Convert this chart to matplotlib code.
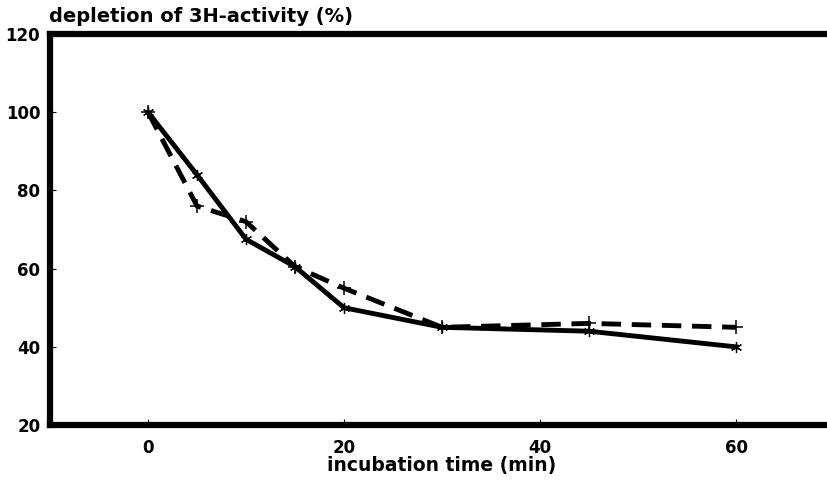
import matplotlib
matplotlib.use("Agg")
import matplotlib.pyplot as plt

plt.rcParams['font.family'] = ['DejaVu Sans']
plt.rcParams['font.weight'] = 'bold'

# incubation time (min)
time_solid = [0, 5, 10, 15, 20, 30, 45, 60]
depl_solid = [100, 84, 67.5, 60.5, 50, 45, 44, 40]

time_dashed = [0, 5, 10, 15, 20, 30, 45, 60]
depl_dashed = [100, 76, 72, 60.5, 55, 45, 46, 45]

xticks = [0, 20, 40, 60]
yticks = [20, 40, 60, 80, 100, 120]

fig = plt.figure(figsize=(8.27, 4.92), dpi=100)
ax = fig.add_axes([0.0605, 0.136, 0.948, 0.795])

ax.plot(time_solid, depl_solid, color='black', lw=3.5, ls='-',
        marker=(6, 2, 0), ms=8, mew=0.9, solid_joinstyle='round', zorder=3)
ax.plot(time_dashed, depl_dashed, color='black', lw=3.5, ls=(0, (4, 2.2)),
        marker='+', ms=10, mew=1.1, zorder=2)

ax.set_xlim(-10, 70)
ax.set_ylim(20, 120)
ax.set_xticks(xticks)
ax.set_yticks(yticks)

for s in ax.spines.values():
    s.set_linewidth(4.5)
    s.set_capstyle('projecting')

ax.tick_params(direction='in', length=4, width=0.8, labelsize=12)
ax.tick_params(axis='x', pad=10)
ax.tick_params(axis='y', pad=7)
for lab in ax.get_xticklabels() + ax.get_yticklabels():
    lab.set_fontweight('bold')

fig.text(49 / 827, 1 - 17 / 492, 'depletion of 3H-activity (%)',
         ha='left', va='center', fontsize=14, fontweight='bold')
fig.text(442 / 827, 1 - 466 / 492, 'incubation time (min)',
         ha='center', va='center', fontsize=13.5, fontweight='bold')

fig.savefig('out.png', dpi=100)
